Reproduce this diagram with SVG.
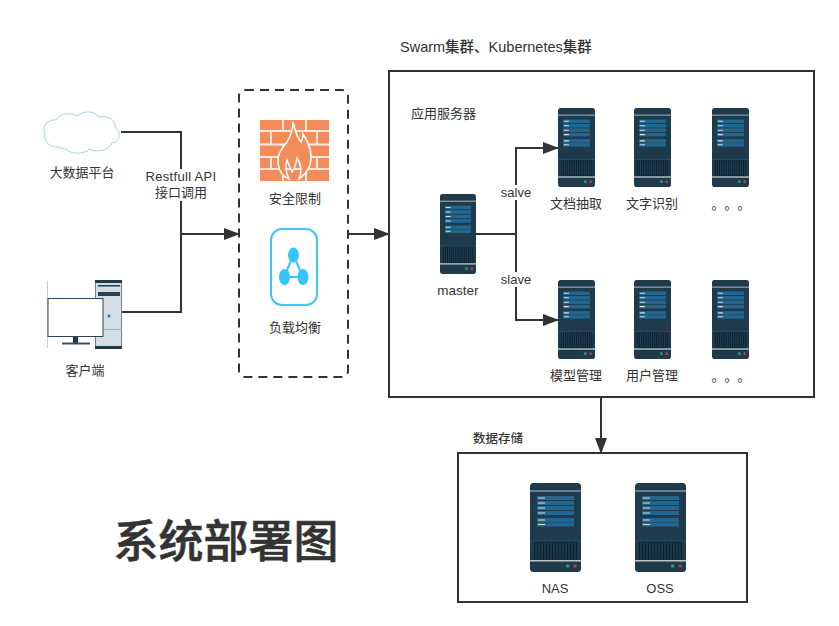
<svg xmlns="http://www.w3.org/2000/svg" xmlns:xlink="http://www.w3.org/1999/xlink" width="839" height="626" viewBox="0 0 839 626">
<style>
text{font-family:"Liberation Sans","Noto Sans CJK SC",sans-serif;font-size:13px;fill:#333;text-anchor:middle}
.box{fill:#fff;stroke:#333;stroke-width:2}
.wire{fill:none;stroke:#333;stroke-width:2}
.lbl{fill:#fff;stroke:none}
.l{text-anchor:start}
.dots{text-anchor:start;font-family:"Noto Sans CJK SC",sans-serif}
</style>
<defs>
<marker id="arrow" markerUnits="userSpaceOnUse" markerWidth="16" markerHeight="12" refX="15" refY="6" orient="auto"><path d="M0,0L16,6L0,12Z" fill="#333"/></marker>
<symbol id="server" viewBox="0 0 51 89" preserveAspectRatio="none">
<rect width="51" height="89" rx="3.500" fill="#1f3a4a"/>
<rect y="7.500" width="51" height="1" fill="#b9c6cc"/>
<rect x="7" y="13" width="37" height="4" fill="#23668f"/><rect x="7" y="18" width="37" height="4" fill="#23668f"/>
<rect x="7" y="23" width="37" height="4" fill="#23668f"/><rect x="7" y="28" width="37" height="4" fill="#23668f"/>
<rect x="7" y="35" width="37" height="4" fill="#23668f"/><rect x="7" y="39.500" width="37" height="4" fill="#23668f"/>
<path d="M8,15H15M8,20H15M8,25H15M8,30H15M8,37H15M8,41.500H15" stroke="#cfe0ea" stroke-width="1.200"/>
<rect y="57.500" width="51" height="1" fill="#1d5a6b"/>
<rect x="4" y="58.500" width="43" height="18" fill="#0c2231"/>
<path d="M6,59V76M9,59V76M12,59V76M15,59V76M18,59V76M21,59V76M24,59V76M27,59V76M30,59V76M33,59V76M36,59V76M39,59V76M42,59V76M45,59V76" stroke="#2a4a5c" stroke-width="1"/>
<rect y="77" width="51" height="1.500" fill="#b9c6cc"/>
<circle cx="37.700" cy="83" r="1.800" fill="#2e9c78"/><circle cx="45" cy="83" r="1.800" fill="#b23a55"/>
</symbol>
</defs>

<g id="cluster">
<rect class="box" x="389" y="71" width="425" height="326"/>
<text class="l" x="400" y="52" style="font-size:14.500px;font-weight:500">Swarm集群、Kubernetes集群</text>
<text class="l" x="411" y="118">应用服务器</text>
</g>
<g id="storage">
<rect class="box" x="458" y="453" width="289" height="149"/>
<text class="l" x="473" y="443" style="font-size:12.500px;font-weight:500">数据存储</text>
</g>

<g id="connectors">
<path class="wire" d="M121,132H181V234"/>
<path class="wire" d="M122,312H181V234"/>
<path class="wire" d="M181,234H239" marker-end="url(#arrow)"/>
<path class="wire" d="M349,234H389" marker-end="url(#arrow)"/>
<path class="wire" d="M476,234H516"/>
<path class="wire" d="M516,234V148H558" marker-end="url(#arrow)"/>
<path class="wire" d="M516,234V320H558" marker-end="url(#arrow)"/>
<path class="wire" d="M601,398V453" marker-end="url(#arrow)"/>
<rect class="lbl" x="146" y="169" width="70" height="32"/>
<rect class="lbl" x="500" y="185" width="34" height="15"/>
<rect class="lbl" x="500" y="272" width="34" height="15"/>
<text x="181" y="181" style="letter-spacing:.3px">Restfull API</text>
<text x="181" y="197">接口调用</text>
<text x="516" y="197">salve</text>
<text x="516" y="284">slave</text>
</g>

<g id="bigdata">
<path d="M58,147C48,147 43,140 45,133C41,126 48,119 56,120C60,113 71,112 77,116C84,110 95,111 99,117C108,115 116,120 115,127C122,132 120,142 112,143C108,151 96,153 90,149C83,155 70,154 66,149C63,149 60,148 58,147Z" fill="#fff" stroke="#a9d3e6" stroke-width="1"/>
<text x="82" y="177">大数据平台</text>
</g>

<g id="client">
<path d="M47.500,281V348" stroke="#ccc" fill="none"/>
<rect x="95.500" y="280.500" width="26" height="68" rx="1" fill="#d6dde3" stroke="#71838f" stroke-width="1"/>
<path d="M95,280H122V283H95ZM95,346H122V349H95Z" fill="#1f3a4a"/>
<rect x="98" y="285" width="22" height="1.500" fill="#1f3a4a"/>
<rect x="98" y="292" width="22" height="4" fill="#2b4356"/>
<rect x="95" y="329" width="27" height="1" fill="#9aa7b0"/>
<circle cx="109" cy="316" r="1.500" fill="#2f6fd6"/>
<rect x="48" y="298.500" width="55" height="38" fill="#fff" stroke="#2b4356" stroke-width="1"/>
<rect x="73" y="337" width="5" height="6" fill="#1f3a4a"/>
<rect x="62" y="342.500" width="28" height="2" fill="#3a5264"/>
<text x="85" y="375">客户端</text>
</g>

<g id="gateway">
<rect x="239" y="90" width="109" height="287" rx="6" fill="#fff" stroke="#333" stroke-width="2" stroke-dasharray="9 6"/>
<rect x="260" y="120" width="69" height="61" fill="#f48c5a"/>
<path d="M260,131H329M260,144.500H329M260,157H329M260,169H329" stroke="#fbe9df" stroke-width="2"/>
<path d="M283,120V131M306,120V131M271,131V144.500M294,131V144.500M317,131V144.500M283,144.500V157M306,144.500V157M271,157V169M294,157V169M317,157V169M283,169V181M306,169V181" stroke="#fbe9df" stroke-width="2"/>
<g id="flame"><path d="M293,122C296,132 296,137 301,142C303,139 303,137 303,134C309,143 313,154 310,165C308,172 303,176 299,179C302,172 301,164 297,158C296,164 295,168 292,172C290,167 288,163 287,160C285,166 286,173 289,179C283,177 279,171 278,163C277,153 283,148 287,142C290,137 293,130 293,122Z" fill="#f48c5a" stroke="#fff" stroke-width="1.500"/></g>
<text x="295" y="203">安全限制</text>
<rect x="271" y="229" width="46" height="76" rx="11" fill="#fff" stroke="#3cc8fb" stroke-width="2"/>
<path d="M293.500,255L284,277H303Z" fill="none" stroke="#35c5fb" stroke-width="2"/>
<ellipse cx="293.500" cy="255" rx="5.500" ry="7.500" fill="#35c5fb"/>
<ellipse cx="284.500" cy="277" rx="5.500" ry="8" fill="#35c5fb"/>
<ellipse cx="303" cy="277" rx="5.500" ry="8" fill="#35c5fb"/>
<text x="295" y="332">负载均衡</text>
</g>

<g id="master"><use href="#server" x="440" y="194" width="36" height="80"/><text x="458" y="295" style="font-size:13.500px">master</text></g>
<g id="s1"><use href="#server" x="558" y="108" width="37" height="79"/><text x="576" y="208">文档抽取</text></g>
<g id="s2"><use href="#server" x="634" y="108" width="37" height="79"/><text x="652" y="208">文字识别</text></g>
<g id="s3"><use href="#server" x="712" y="108" width="37" height="79"/><text class="dots" x="711.500 724.500 737.500" y="208.500">。。。</text></g>
<g id="s4"><use href="#server" x="558" y="280" width="37" height="79"/><text x="576" y="380">模型管理</text></g>
<g id="s5"><use href="#server" x="634" y="280" width="37" height="79"/><text x="652" y="380">用户管理</text></g>
<g id="s6"><use href="#server" x="712" y="280" width="37" height="79"/><text class="dots" x="711.500 724.500 737.500" y="380.500">。。。</text></g>

<g id="nas"><use href="#server" x="530" y="483" width="51" height="89"/><text x="555" y="593">NAS</text></g>
<g id="oss"><use href="#server" x="635" y="483" width="51" height="89"/><text x="660" y="593" style="font-weight:500">OSS</text></g>

<text id="title" x="226" y="558" style="font-size:45px;font-weight:500;stroke:#333;stroke-width:.6">系统部署图</text>
</svg>
